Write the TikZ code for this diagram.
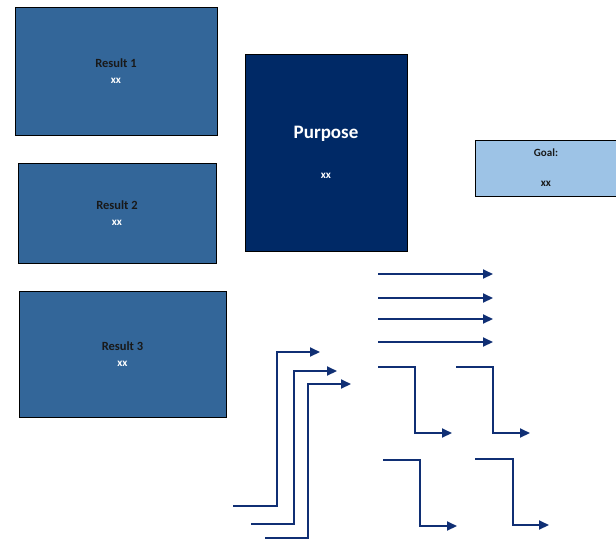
\documentclass[tikz,border=0pt]{standalone}
\usepackage{fontspec}
\setmainfont{Carlito}
\usetikzlibrary{arrows.meta}
\definecolor{resblue}{RGB}{51,102,153}
\definecolor{purpblue}{RGB}{0,41,102}
\definecolor{goalblue}{RGB}{157,195,230}
\definecolor{arrblue}{RGB}{16,47,116}
\begin{document}
\begin{tikzpicture}[x=1pt,y=-1pt,
   resbox/.style={draw=black,line width=0.8pt,fill=resblue,align=center,font=\bfseries\fontsize{12.5}{16}\selectfont,text=black!90},
   flow/.style={draw=arrblue,line width=2pt,-{Triangle[length=10pt,width=9pt]}}]
   \useasboundingbox (0,0) rectangle (616,539);
   % results on the left
   \node[resbox,minimum width=202pt,minimum height=128pt] (res1) at (116,71) {Result 1\\{\color{white}\fontsize{11}{12}\selectfont xx}};
   \node[resbox,minimum width=198pt,minimum height=100pt] (res2) at (117,213) {Result 2\\{\color{white}\fontsize{11}{12}\selectfont xx}};
   \node[resbox,minimum width=207pt,minimum height=126pt] (res3) at (122.5,354) {Result 3\\{\color{white}\fontsize{11}{12}\selectfont xx}};
   % purpose and goal
   \node[draw=black,line width=0.8pt,fill=purpblue,text=white,align=center,minimum width=162pt,minimum height=197pt,font=\bfseries] (purp) at (326,152.5) {{\fontsize{19}{20}\selectfont Purpose}\\[28pt]{\fontsize{11}{12}\selectfont xx}};
   \node[draw=black,line width=0.8pt,fill=goalblue,text=black!90,align=center,minimum width=142pt,minimum height=56pt,font=\bfseries\fontsize{11}{12}\selectfont] (goal) at (546,168) {Goal:\\[18pt]xx};
   % straight arrows
   \foreach \y in {274,298,319,342}
      \draw[flow] (378,\y) -- (493,\y);
   % arrows going up
   \draw[flow] (233,506) -- (277,506) -- (277,352) -- (320,352);
   \draw[flow] (251,524) -- (294,524) -- (294,371) -- (337,371);
   \draw[flow] (265,538) -- (308,538) -- (308,384) -- (351,384);
   % arrows going down
   \draw[flow] (378,367) -- (415,367) -- (415,433) -- (452,433);
   \draw[flow] (456,367) -- (493,367) -- (493,433) -- (530,433);
   \draw[flow] (383,460) -- (420,460) -- (420,526) -- (457,526);
   \draw[flow] (475,459) -- (513,459) -- (513,525) -- (549,525);
\end{tikzpicture}
\end{document}
